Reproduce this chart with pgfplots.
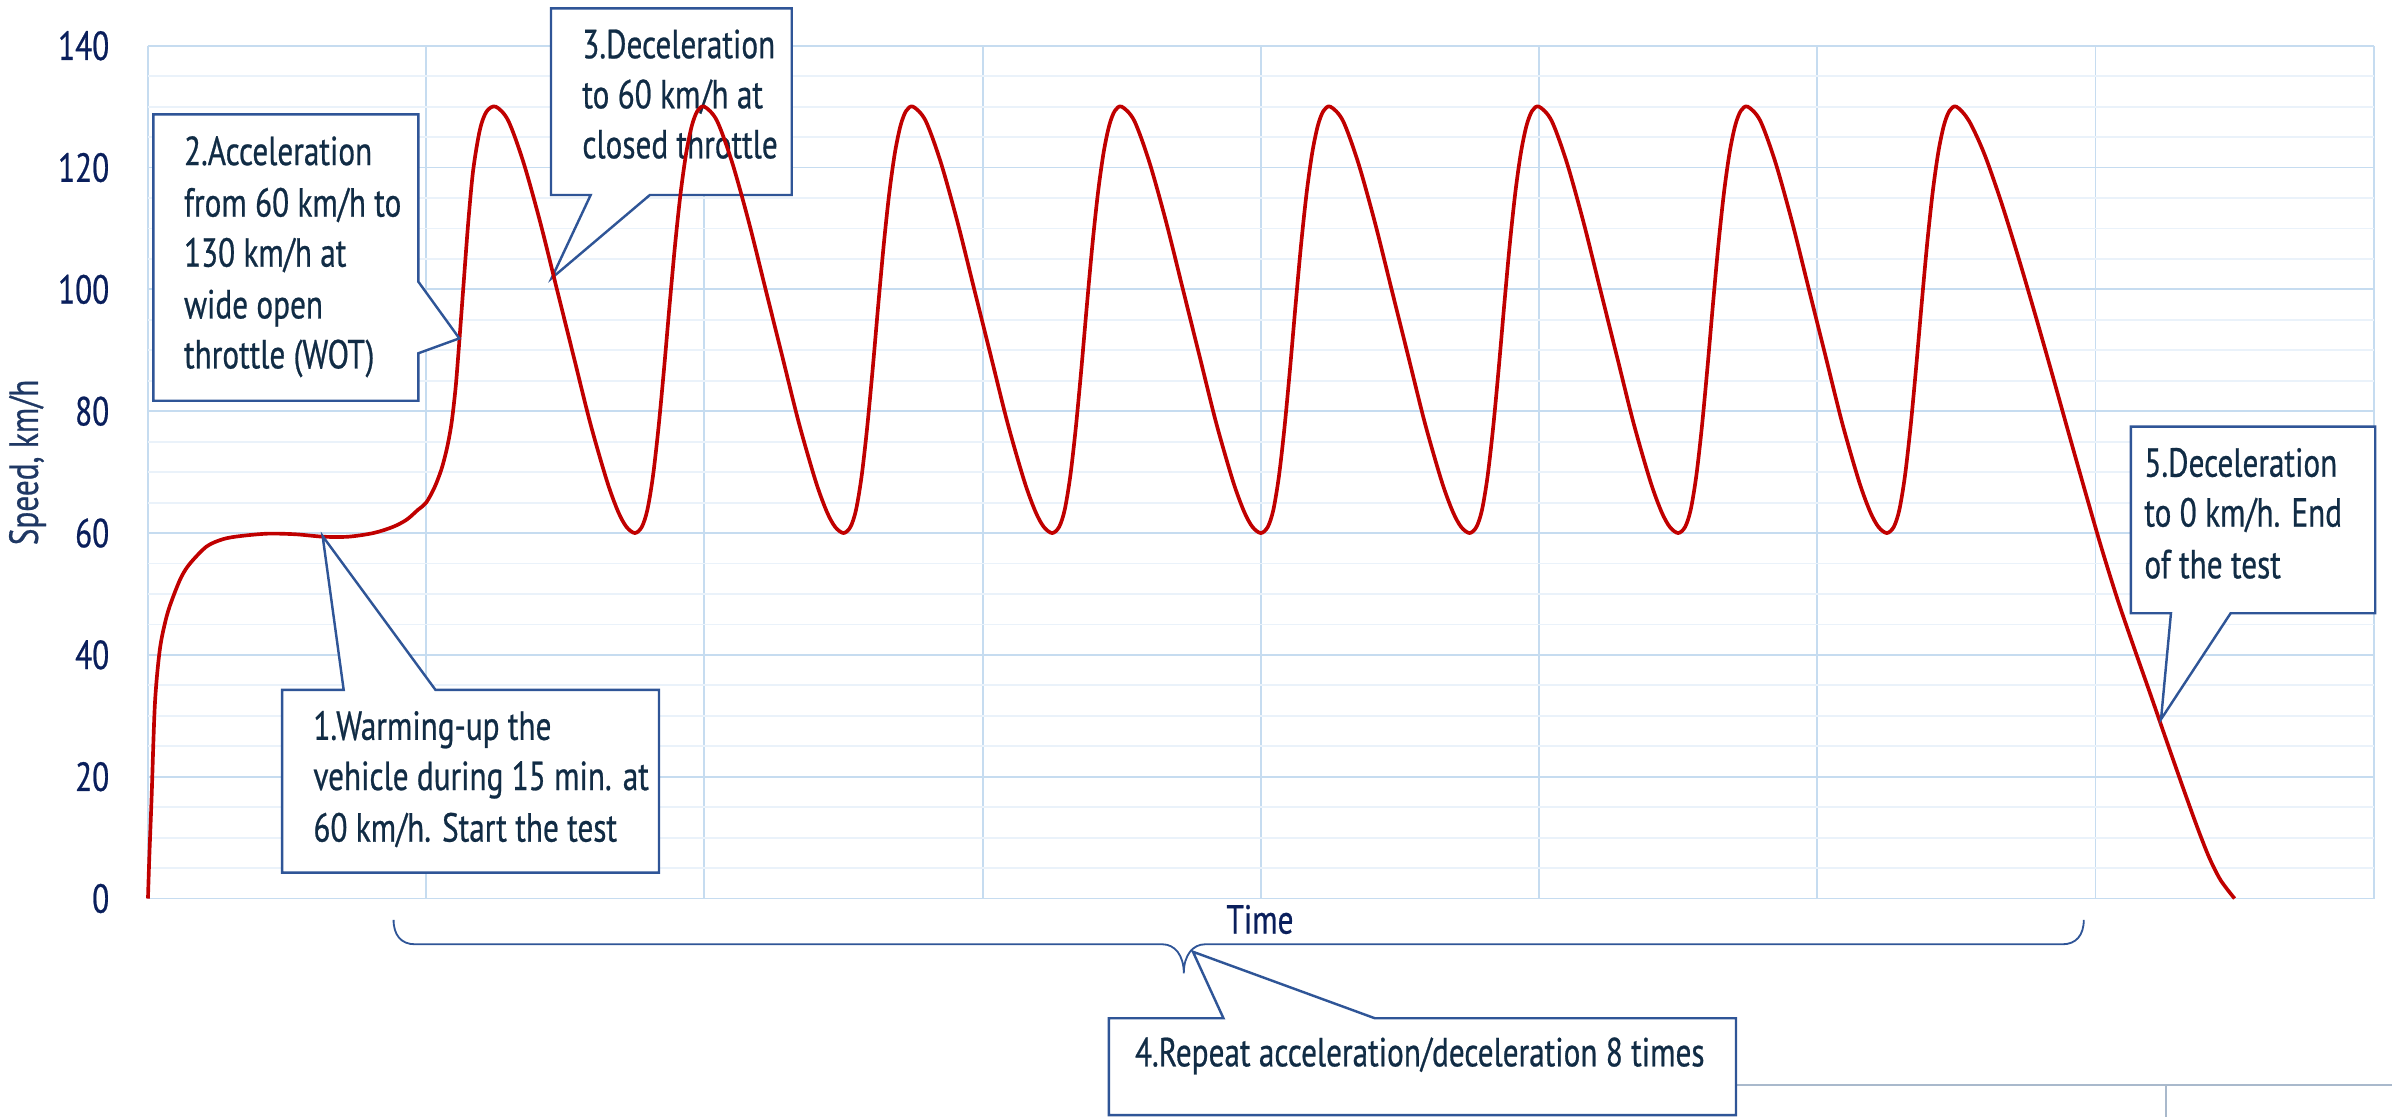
\documentclass[border=0pt]{standalone}
\usepackage{fontspec}
\setmainfont[FakeStretch=0.77, FakeBold=0.6]{PT Sans}
\usepackage{pgfplots}
\pgfplotsset{compat=1.18}

\definecolor{gridmaj}{HTML}{C6DCF0}
\definecolor{gridmin}{HTML}{EAF2FA}
\definecolor{speedred}{HTML}{C00000}
\definecolor{boxc}{HTML}{2F5597}
\definecolor{txtc}{HTML}{112C45}
\definecolor{tickc}{HTML}{0A1F5C}
\definecolor{labc}{HTML}{1F3864}
\definecolor{edgec}{HTML}{A9B9CC}

\newcommand{\cf}{\fontsize{13.3}{16.6}\selectfont}

\begin{document}
\begin{tikzpicture}
\path[use as bounding box] (-48.5pt,-71.5pt) rectangle (735.5pt,294.5pt);
\begin{axis}[
  at={(0pt,0pt)}, anchor=south west,
  scale only axis, width=729.5pt, height=279.5pt,
  xmin=0, xmax=8, ymin=0, ymax=140,
  xtick={0,...,8}, xticklabels={},
  ytick={0,20,...,140}, minor y tick num=3,
  grid=both,
  major grid style={color=gridmaj, line width=0.6pt},
  minor grid style={color=gridmin, line width=0.6pt},
  axis line style={draw=none},
  tick style={draw=none},
  major tick length=0pt, minor tick length=0pt,
  yticklabel style={font=\cf, text=tickc, anchor=east, inner sep=0pt, xshift=-12.5pt},
  /pgf/number format/assume math mode=true,
  clip=false,
  every node/.append style={inner sep=0pt},
]

% box 3 sits under the curve
\draw[boxc, line width=0.8pt, fill=white] (axis cs:1.4487,146.13) -- (axis cs:2.3139,146.13)
  -- (axis cs:2.3139,115.5) -- (axis cs:1.804,115.5) -- (axis cs:1.4508,101.83)
  -- (axis cs:1.5912,115.5) -- (axis cs:1.4487,115.5) -- cycle;
\node[anchor=base west, font=\cf, text=txtc] at (axis cs:1.5227,137.95) {3.Deceleration};
\node[anchor=base west, font=\cf, text=txtc] at (axis cs:1.5227,129.73) {to 60 km/h at};
\node[anchor=base west, font=\cf, text=txtc] at (axis cs:1.5227,121.52) {closed throttle};

% speed trace
\addplot[speedred, line width=1.2pt, smooth] coordinates {
(0,0) (0.005,7) (0.013,16.5) (0.025,32) (0.043,41) (0.067,46.3) (0.091,49.6) (0.12,52.8)
(0.151,55) (0.211,57.8) (0.27,59) (0.331,59.5) (0.43,59.9) (0.53,59.8) (0.63,59.4) (0.72,59.4)
(0.81,60) (0.88,61) (0.93,62.2) (0.97,63.8) (1.0,65) (1.03,67.5) (1.055,70.5) (1.075,74)
(1.091,78) (1.105,83.5) (1.115,89) (1.133,100) (1.151,110.9) (1.169,119.6) (1.193,126.2) (1.217,129.2) (1.25,130)
(1.295,127.7) (1.35,120.8) (1.41,111) (1.47,100) (1.53,89) (1.59,78) (1.65,68.5) (1.69,63.5) (1.72,61) (1.75,60)
(1.775,61) (1.795,63.8) (1.815,69.3) (1.835,77.3) (1.855,87) (1.875,97.5) (1.895,107.5) (1.915,116) (1.935,122.5) (1.955,126.9) (1.975,129.3) (2.0,130)
(2.045,127.7) (2.1,120.8) (2.16,111) (2.22,100) (2.28,89) (2.34,78) (2.4,68.5) (2.44,63.5) (2.47,61) (2.5,60)
(2.525,61) (2.545,63.8) (2.565,69.3) (2.585,77.3) (2.605,87) (2.625,97.5) (2.645,107.5) (2.665,116) (2.685,122.5) (2.705,126.9) (2.725,129.3) (2.75,130)
(2.795,127.7) (2.85,120.8) (2.91,111) (2.97,100) (3.03,89) (3.09,78) (3.15,68.5) (3.19,63.5) (3.22,61) (3.25,60)
(3.275,61) (3.295,63.8) (3.315,69.3) (3.335,77.3) (3.355,87) (3.375,97.5) (3.395,107.5) (3.415,116) (3.435,122.5) (3.455,126.9) (3.475,129.3) (3.5,130)
(3.545,127.7) (3.6,120.8) (3.66,111) (3.72,100) (3.78,89) (3.84,78) (3.9,68.5) (3.94,63.5) (3.97,61) (4.0,60)
(4.025,61) (4.045,63.8) (4.065,69.3) (4.085,77.3) (4.105,87) (4.125,97.5) (4.145,107.5) (4.165,116) (4.185,122.5) (4.205,126.9) (4.225,129.3) (4.25,130)
(4.295,127.7) (4.35,120.8) (4.41,111) (4.47,100) (4.53,89) (4.59,78) (4.65,68.5) (4.69,63.5) (4.72,61) (4.75,60)
(4.775,61) (4.795,63.8) (4.815,69.3) (4.835,77.3) (4.855,87) (4.875,97.5) (4.895,107.5) (4.915,116) (4.935,122.5) (4.955,126.9) (4.975,129.3) (5.0,130)
(5.045,127.7) (5.1,120.8) (5.16,111) (5.22,100) (5.28,89) (5.34,78) (5.4,68.5) (5.44,63.5) (5.47,61) (5.5,60)
(5.525,61) (5.545,63.8) (5.565,69.3) (5.585,77.3) (5.605,87) (5.625,97.5) (5.645,107.5) (5.665,116) (5.685,122.5) (5.705,126.9) (5.725,129.3) (5.75,130)
(5.795,127.7) (5.85,120.8) (5.91,111) (5.97,100) (6.03,89) (6.09,78) (6.15,68.5) (6.19,63.5) (6.22,61) (6.25,60)
(6.275,61) (6.295,63.8) (6.315,69.3) (6.335,77.3) (6.355,87) (6.375,97.5) (6.395,107.5) (6.415,116) (6.435,122.5) (6.455,126.9) (6.475,129.3) (6.5,130)
(6.545,127.7) (6.6,122.3) (6.66,114.5) (6.72,105.7) (6.78,96.4) (6.84,86.8) (6.9,77) (6.96,67.3) (7.02,57.8)
(7.08,49) (7.14,41) (7.2,33.2) (7.26,25.3) (7.32,17.5) (7.37,11.2) (7.41,6.6) (7.45,3) (7.5,0)
};

% box 1
\draw[boxc, line width=0.8pt, fill=white] (axis cs:0.4825,34.24) -- (axis cs:0.7035,34.24)
  -- (axis cs:0.6278,59.5) -- (axis cs:1.0336,34.24) -- (axis cs:1.8369,34.24)
  -- (axis cs:1.8369,4.26) -- (axis cs:0.4825,4.26) -- cycle;
\node[anchor=base west, font=\cf, text=txtc] at (axis cs:0.556,26.05) {1.Warming-up the};
\node[anchor=base west, font=\cf, text=txtc] at (axis cs:0.556,17.81) {vehicle during 15 min. at};
\node[anchor=base west, font=\cf, text=txtc] at (axis cs:0.556,9.34) {60 km/h. Start the test};

% box 2
\draw[boxc, line width=0.8pt, fill=white] (axis cs:0.0192,128.75) -- (axis cs:0.9716,128.75)
  -- (axis cs:0.9716,101.28) -- (axis cs:1.1191,91.96) -- (axis cs:0.9716,89.51)
  -- (axis cs:0.9716,81.72) -- (axis cs:0.0192,81.72) -- cycle;
\node[anchor=base west, font=\cf, text=txtc] at (axis cs:0.091,120.41) {2.Acceleration};
\node[anchor=base west, font=\cf, text=txtc] at (axis cs:0.091,111.95) {from 60 km/h to};
\node[anchor=base west, font=\cf, text=txtc] at (axis cs:0.091,103.73) {130 km/h at};
\node[anchor=base west, font=\cf, text=txtc] at (axis cs:0.091,95.24) {wide open};
\node[anchor=base west, font=\cf, text=txtc] at (axis cs:0.091,87.03) {throttle (WOT)};

% box 5
\draw[boxc, line width=0.8pt, fill=white] (axis cs:7.127,77.46) -- (axis cs:8.0055,77.46)
  -- (axis cs:8.0055,46.83) -- (axis cs:7.4857,46.83) -- (axis cs:7.2356,29.43)
  -- (axis cs:7.2713,46.83) -- (axis cs:7.127,46.83) -- cycle;
\node[anchor=base west, font=\cf, text=txtc] at (axis cs:7.1372,69.25) {5.Deceleration};
\node[anchor=base west, font=\cf, text=txtc] at (axis cs:7.1372,61.06) {to 0 km/h. End};
\node[anchor=base west, font=\cf, text=txtc] at (axis cs:7.1372,52.57) {of the test};

% x label and brace
\node[anchor=base, font=\cf, text=tickc] at (axis cs:3.997,-5.76) {Time};
\draw[boxc, line width=0.6pt]
  (axis cs:0.8828,-3.506) .. controls (axis cs:0.8828,-6.011) and (axis cs:0.9102,-7.513) .. (axis cs:0.9596,-7.513)
  -- (axis cs:3.6463,-7.513) .. controls (axis cs:3.6902,-7.513) and (axis cs:3.7231,-9.267) .. (axis cs:3.7231,-12.27)
  .. controls (axis cs:3.7231,-9.267) and (axis cs:3.7560,-7.513) .. (axis cs:3.7998,-7.513)
  -- (axis cs:6.8814,-7.513) .. controls (axis cs:6.9306,-7.513) and (axis cs:6.958,-6.011) .. (axis cs:6.958,-3.506);

% box 4
\draw[edgec, line width=0.6pt] (axis cs:5.708,-30.55) -- (axis cs:8.1,-30.55);
\draw[edgec, line width=0.6pt] (axis cs:7.254,-30.55) -- (axis cs:7.254,-36.5);
\draw[boxc, line width=0.8pt, fill=white] (axis cs:3.454,-19.66) -- (axis cs:3.8657,-19.66)
  -- (axis cs:3.756,-8.74) -- (axis cs:4.410,-19.66) -- (axis cs:5.708,-19.66)
  -- (axis cs:5.708,-35.56) -- (axis cs:3.454,-35.56) -- cycle;
\node[anchor=base west, font=\cf, text=txtc] at (axis cs:3.509,-27.55) {4.Repeat acceleration/deceleration 8 times};

% y label
\node[rotate=90, anchor=center, font=\cf, text=labc] at (axis cs:-0.433,71.6) {Speed, km/h};
\end{axis}
\end{tikzpicture}
\end{document}
